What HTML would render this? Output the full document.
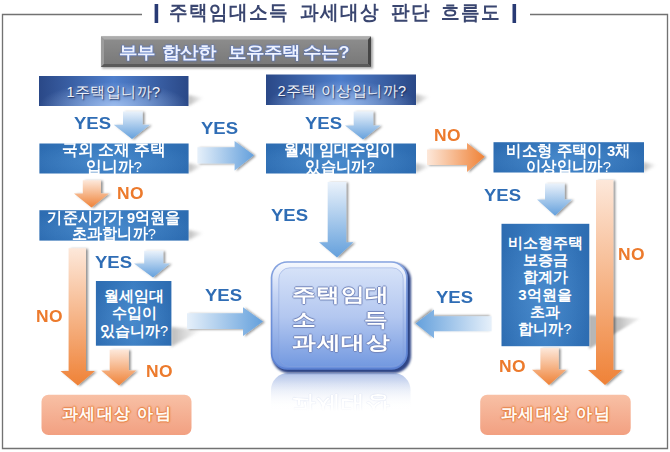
<!DOCTYPE html>
<html><head><meta charset="utf-8">
<style>
html,body{margin:0;padding:0;background:#fff;}
body{width:670px;height:452px;position:relative;overflow:hidden;font-family:"Liberation Sans",sans-serif;}
svg{position:absolute;left:0;top:0;}
.t{position:absolute;text-align:center;white-space:nowrap;line-height:1;}
.yes{position:absolute;font-weight:bold;font-size:17px;color:#2f6db5;line-height:1;transform-origin:0 0;transform:scaleX(1.09);margin-left:-0.8px;margin-top:-0.7px;}
.no{position:absolute;font-weight:bold;font-size:17px;color:#ec7a2c;line-height:1;letter-spacing:0.4px;transform-origin:0 0;transform:scaleX(1.025);margin-left:-0.7px;margin-top:-1px;}
.w{color:#fff;font-weight:bold;font-size:15.5px;}
.row{position:absolute;display:flex;justify-content:space-between;font-size:24px;transform-origin:0 0;transform:scaleY(0.8);font-weight:bold;line-height:1;color:#ffffff;
 text-shadow:1px 0 0.8px #7486bb,-1px 0 0.8px #7486bb,0 1px 0.8px #7486bb,0 -1px 0.8px #7486bb;}
.pe{position:absolute;text-align:center;white-space:nowrap;line-height:1;font-size:16px;font-weight:bold;color:#fffaf5;letter-spacing:0.7px;
 text-shadow:1px 0 1px #e7854a,-1px 0 1px #e7854a,0 1px 1px #e7854a,0 -1px 1px #e7854a,0 0 2.5px #e98c55;}
.gt{position:absolute;top:43.8px;white-space:nowrap;line-height:1;font-size:18px;font-weight:bold;color:#eef2fd;transform-origin:0 0;transform:scaleY(0.92);
 text-shadow:0 0 1px #4a6cc0,0 0 1.5px #4a6cc0,0 0 2px #5d7fd0;}
.q{font-weight:normal;}
</style></head><body>
<svg width="670" height="452" viewBox="0 0 670 452">
<defs>
  <linearGradient id="gDown" x1="0" y1="0" x2="0" y2="1">
    <stop offset="0" stop-color="#eaf2fb"/><stop offset="1" stop-color="#64a0dc"/>
  </linearGradient>
  <linearGradient id="gRight" x1="0" y1="0" x2="1" y2="0">
    <stop offset="0" stop-color="#e6f0fa"/><stop offset="1" stop-color="#64a0dc"/>
  </linearGradient>
  <linearGradient id="gLeft" x1="1" y1="0" x2="0" y2="0">
    <stop offset="0" stop-color="#e6f0fa"/><stop offset="1" stop-color="#64a0dc"/>
  </linearGradient>
  <linearGradient id="oDown" x1="0" y1="0" x2="0" y2="1">
    <stop offset="0" stop-color="#fde8da"/><stop offset="1" stop-color="#ef8237"/>
  </linearGradient>
  <linearGradient id="oRight" x1="0" y1="0" x2="1" y2="0">
    <stop offset="0" stop-color="#fde8da"/><stop offset="1" stop-color="#ef8237"/>
  </linearGradient>
  <linearGradient id="navy" x1="0" y1="0" x2="1" y2="0">
    <stop offset="0" stop-color="#2a4887"/><stop offset="0.5" stop-color="#4f7fcc"/><stop offset="1" stop-color="#2a4887"/>
  </linearGradient>
  <radialGradient id="navyHi" cx="0.5" cy="1" r="0.5" gradientTransform="translate(0.5 1) scale(1 1.6) translate(-0.5 -1)">
    <stop offset="0" stop-color="#a9c6f2" stop-opacity="0.85"/><stop offset="1" stop-color="#a9c6f2" stop-opacity="0"/>
  </radialGradient>
  <linearGradient id="mid" x1="0" y1="0" x2="1" y2="0">
    <stop offset="0" stop-color="#2d6cb1"/><stop offset="0.5" stop-color="#3a7dc2"/><stop offset="1" stop-color="#2d6cb1"/>
  </linearGradient>
  <radialGradient id="midHi" cx="0.45" cy="0.6" r="0.6">
    <stop offset="0" stop-color="#5a9ad8" stop-opacity="0.45"/><stop offset="1" stop-color="#5a9ad8" stop-opacity="0"/>
  </radialGradient>
  <linearGradient id="gray" x1="0" y1="0" x2="0" y2="1">
    <stop offset="0" stop-color="#8e8e8e"/><stop offset="1" stop-color="#777777"/>
  </linearGradient>
  <linearGradient id="peach" x1="0" y1="0" x2="0" y2="1">
    <stop offset="0" stop-color="#f8c0a5"/><stop offset="1" stop-color="#f2a081"/>
  </linearGradient>
  <linearGradient id="cOuter" x1="0" y1="0" x2="0" y2="1">
    <stop offset="0" stop-color="#a6bdee"/><stop offset="1" stop-color="#4d70c0"/>
  </linearGradient>
  <linearGradient id="cInner" x1="0" y1="0" x2="0" y2="1">
    <stop offset="0" stop-color="#d6e2f8"/><stop offset="0.5" stop-color="#b3c7f0"/><stop offset="1" stop-color="#7399e0"/>
  </linearGradient>
  <linearGradient id="cRim" x1="0" y1="0" x2="0" y2="1">
    <stop offset="0" stop-color="#87a4e0"/><stop offset="1" stop-color="#5a80d2"/>
  </linearGradient>
  <linearGradient id="cBand" x1="0" y1="0" x2="0" y2="1">
    <stop offset="0" stop-color="#f5f8fe"/><stop offset="0.3" stop-color="#c6d5f4"/><stop offset="1" stop-color="#7196de"/>
  </linearGradient>
  <linearGradient id="refl" gradientUnits="userSpaceOnUse" x1="0" y1="373" x2="0" y2="411">
    <stop offset="0" stop-color="#b0c2e8"/><stop offset="1" stop-color="#ffffff" stop-opacity="0"/>
  </linearGradient>
  <linearGradient id="shw" x1="0" y1="0" x2="1" y2="0">
    <stop offset="0" stop-color="#777"/><stop offset="1" stop-color="#777" stop-opacity="0"/>
  </linearGradient>
  <linearGradient id="shw2" x1="0" y1="0" x2="1" y2="0">
    <stop offset="0" stop-color="#888"/><stop offset="0.6" stop-color="#999"/><stop offset="1" stop-color="#bbb" stop-opacity="0.3"/>
  </linearGradient>
  <filter id="sh" x="-30%" y="-30%" width="160%" height="160%">
    <feDropShadow dx="2" dy="0.6" stdDeviation="1.1" flood-color="#000" flood-opacity="0.42"/>
  </filter>
  <filter id="shL" x="-30%" y="-30%" width="160%" height="160%">
    <feDropShadow dx="-1.8" dy="-0.8" stdDeviation="1.1" flood-color="#000" flood-opacity="0.42"/>
  </filter>
  <filter id="bl"><feGaussianBlur stdDeviation="1.8"/></filter>
  <filter id="bl05" x="-10%" y="-10%" width="120%" height="120%"><feGaussianBlur stdDeviation="0.7"/></filter>
  <filter id="bl1"><feGaussianBlur stdDeviation="1"/></filter>
</defs>

<!-- frame -->
<polyline points="142,14.5 2.5,14.5 2.5,448.5 667.5,448.5 667.5,14.5 530,14.5" fill="none" stroke="#727272" stroke-width="1.35"/>
<rect x="154.6" y="4" width="3.6" height="19" fill="#283a74"/>
<rect x="512.5" y="4" width="3.6" height="19" fill="#283a74"/>

<!-- gray box -->
<g filter="url(#bl1)" opacity="0.35"><rect x="102" y="37.5" width="271" height="31" fill="#000"/></g>
<rect x="101" y="36.5" width="270" height="30.5" fill="url(#gray)"/>
<polygon points="101,36.5 371,36.5 368,39.5 104,39.5" fill="#acacac"/>
<polygon points="101,36.5 104,39.5 104,64 101,67" fill="#9c9c9c"/>
<polygon points="371,36.5 371,67 368,64 368,39.5" fill="#454545"/>
<polygon points="101,67 371,67 368,64 104,64" fill="#5a5a5a"/>
<!-- box shadows -->
<g filter="url(#bl)" opacity="0.5">
<polygon fill="url(#shw)" points="188,95 204,98 188,106"/>
<polygon fill="url(#shw)" points="415,94 430,97 415,105"/>
<polygon fill="url(#shw)" points="188,163 203,166 188,173"/>
<polygon fill="url(#shw)" points="415,163 431,166 415,173"/>
<polygon fill="url(#shw)" points="643,162 657,165 643,172"/>
<polygon fill="url(#shw)" points="188,230 204,233 188,240"/>
<polygon fill="url(#shw)" points="171,327 202,330 171,347"/>
</g>

<g filter="url(#bl1)" opacity="0.62"><polygon fill="url(#shw2)" points="589,315 640,318.5 589,349"/></g>
<!-- navy boxes -->
<rect x="39" y="76" width="149.5" height="30" fill="url(#navy)"/>
<rect x="39" y="76" width="149.5" height="30" fill="url(#navyHi)"/>
<rect x="266" y="74.5" width="150" height="30.5" fill="url(#navy)"/>
<rect x="266" y="74.5" width="150" height="30.5" fill="url(#navyHi)"/>

<!-- mid boxes -->
<rect x="39.4" y="143.5" width="149.2" height="30" fill="url(#mid)"/>
<rect x="266" y="143.5" width="150" height="30" fill="url(#mid)"/>
<rect x="493.5" y="142.2" width="150.5" height="30.3" fill="url(#mid)"/>
<rect x="39.4" y="210.2" width="149.2" height="30.4" fill="url(#mid)"/>
<rect x="95.9" y="281" width="75.5" height="64.7" fill="url(#mid)"/>
<rect x="501.5" y="223.8" width="87.8" height="122.4" fill="url(#mid)"/>
<rect x="39.4" y="143.5" width="149.2" height="30" fill="url(#midHi)"/>
<rect x="266" y="143.5" width="150" height="30" fill="url(#midHi)"/>
<rect x="493.5" y="142.2" width="150.5" height="30.3" fill="url(#midHi)"/>
<rect x="39.4" y="210.2" width="149.2" height="30.4" fill="url(#midHi)"/>
<rect x="95.9" y="281" width="75.5" height="64.7" fill="url(#midHi)"/>
<rect x="501.5" y="223.8" width="87.8" height="122.4" fill="url(#midHi)"/>

<!-- blue arrows -->
<g filter="url(#sh)">
<polygon fill="url(#gDown)" points="123,111.4 142.6,111.4 142.6,124.8 150,124.8 132,139 113.7,124.8 123,124.8"/>
<polygon fill="url(#gDown)" points="353.7,111.4 373.2,111.4 373.2,125.5 380.6,125.5 363,139.6 345,125.5 353.7,125.5"/>
<polygon fill="url(#gRight)" points="197.4,147.2 234.6,147.2 234.6,141 254,155.2 234.6,170.4 234.6,163.4 197.4,163.4"/>
<polygon fill="url(#gDown)" points="327.7,182 346.2,182 346.2,242.2 353.4,242.2 337,257.6 319,242.2 327.7,242.2"/>
<polygon fill="url(#gDown)" points="545,183.5 564.6,183.5 564.6,199.6 572,199.6 555,215.7 537,199.6 545,199.6"/>
<polygon fill="url(#gDown)" points="144.2,250.8 163.2,250.8 163.2,263.5 170,263.5 153,277.4 134,263.5 144.2,263.5"/>
<polygon fill="url(#gRight)" points="187,313.3 243,313.3 243,307.3 263,321.6 243,336 243,329 187,329"/>
</g>
<polygon filter="url(#shL)" fill="url(#gLeft)" points="491.6,316.2 434,316.2 434,309.5 415.6,323.6 434,338.2 434,331.2 491.6,331.2"/>
<!-- orange arrows -->
<g filter="url(#sh)">
<polygon fill="url(#oRight)" points="427,149.4 467,149.4 467,142.9 484.7,156.8 467,172 467,164.9 427,164.9"/>
<polygon fill="url(#oDown)" points="82.8,180.3 100.9,180.3 100.9,193.5 109,193.5 91.5,207.6 74,193.5 82.8,193.5"/>
<polygon fill="url(#oDown)" points="596,180 613.3,180 613.3,370 622,370 605,385 588,370 596,370"/>
<polygon fill="url(#oDown)" points="68.6,248.2 86,248.2 86,371 95,371 77.8,385.5 60.5,371 68.6,371"/>
<polygon fill="url(#oDown)" points="109.7,349.7 128.8,349.7 128.8,370.4 136.2,370.4 119,385.5 101.2,370.4 109.7,370.4"/>
<polygon fill="url(#oDown)" points="540.4,348 558.7,348 558.7,369.8 566.3,369.8 549,385 532,369.8 540.4,369.8"/>
</g>

<!-- center box reflection -->
<clipPath id="rclip"><rect x="260" y="373" width="160" height="40"/></clipPath>
<rect x="271" y="373" width="139.5" height="111" rx="17" fill="url(#refl)" clip-path="url(#rclip)"/>
<!-- center box -->
<g filter="url(#bl1)"><rect x="272" y="263" width="139" height="110" rx="17" fill="#2f4585"/></g>
<g filter="url(#bl05)"><rect x="270.8" y="261.2" width="137" height="108.5" rx="16.5" fill="url(#cRim)"/></g>
<rect x="272.4" y="262.8" width="133.6" height="105" rx="15" fill="url(#cBand)"/>
<rect x="278.8" y="267.8" width="124.4" height="98.7" rx="11" fill="url(#cInner)" stroke="#86a2dc" stroke-opacity="0.7" stroke-width="0.7"/>
<!-- peach boxes -->
<rect x="41.5" y="394.8" width="150" height="40.2" rx="7" fill="url(#peach)"/>
<rect x="480.2" y="394.8" width="150.5" height="40.2" rx="7" fill="url(#peach)"/>
</svg>

<!-- title -->
<div style="position:absolute;white-space:nowrap;line-height:1;left:169px;top:2.2px;font-size:20px;font-weight:bold;color:#3a4670;letter-spacing:1.6px;word-spacing:4px;transform-origin:0 0;transform:scaleX(0.93);">주택임대소득 과세대상 판단 흐름도</div>

<div class="gt" style="left:119px;">부부</div><div class="gt" style="left:161.5px;">합산한</div><div class="gt" style="left:227.5px;">보유주택</div><div class="gt" style="left:302.5px;">수는?</div>

<div class="t" style="left:38.5px;top:85.3px;width:150px;font-size:14.5px;letter-spacing:0.4px;color:#eef1f8;text-shadow:1px 1px 1.5px #1c2c5a;">1주택입니까?</div>
<div class="t" style="left:267px;top:83.8px;width:150px;font-size:14.5px;letter-spacing:0.4px;color:#eef1f8;text-shadow:1px 1px 1.5px #1c2c5a;">2주택 이상입니까?</div>

<div class="t w" style="left:39.2px;top:142px;width:150px;line-height:16.5px;transform:scaleX(0.985);">국외 소재 주택<br>입니까<span class="q">?</span></div>
<div class="t w" style="left:265px;top:142px;width:150px;line-height:16.5px;transform:scaleX(0.96);">월세 임대수입이<br>있습니까<span class="q">?</span></div>
<div class="t w" style="left:493px;top:142.5px;width:151px;line-height:16.5px;transform:scaleX(0.963);">비소형 주택이 3채<br>이상입니까<span class="q">?</span></div>
<div class="t w" style="left:39px;top:209.5px;width:150px;line-height:16.5px;transform:scaleX(0.945);">기준시가가 9억원을<br>초과합니까<span class="q">?</span></div>
<div class="t w" style="left:96px;top:288px;width:76px;line-height:17.4px;font-size:14.5px;">월세임대<br>수입이<br>있습니까<span class="q">?</span></div>
<div class="t w" style="left:501px;top:234px;width:88px;line-height:17.2px;font-size:15px;">비소형주택<br>보증금<br>합계가<br>3억원을<br>초과<br>합니까<span class="q">?</span></div>

<div class="yes" style="left:75px;top:116px;">YES</div>
<div class="yes" style="left:202px;top:121px;">YES</div>
<div class="yes" style="left:306px;top:116px;">YES</div>
<div class="no" style="left:434.5px;top:127.5px;">NO</div>
<div class="no" style="left:117.5px;top:186px;">NO</div>
<div class="yes" style="left:272px;top:208px;">YES</div>
<div class="yes" style="left:485px;top:187.5px;">YES</div>
<div class="no" style="left:619px;top:247px;">NO</div>
<div class="yes" style="left:95.5px;top:255px;">YES</div>
<div class="no" style="left:36.5px;top:309px;">NO</div>
<div class="no" style="left:147px;top:363.5px;">NO</div>
<div class="yes" style="left:205.5px;top:288px;">YES</div>
<div class="yes" style="left:436.5px;top:290px;">YES</div>
<div class="no" style="left:500px;top:359px;">NO</div>

<!-- center text -->
<div class="row" style="left:292px;top:284.8px;width:97px;"><span>주</span><span>택</span><span>임</span><span>대</span></div>
<div class="row" style="left:292px;top:310px;width:96px;"><span>소</span><span>득</span></div>
<div class="row" style="left:292px;top:333.2px;width:98px;"><span>과</span><span>세</span><span>대</span><span>상</span></div>
<!-- reflected text -->
<div class="row" style="left:292px;top:413px;width:98px;transform:scaleY(-0.8);color:#fff;text-shadow:0 0 1px #9fb2dc;"><span>과</span><span>세</span><span>대</span><span>상</span></div>
<div style="position:absolute;left:265px;top:380px;width:152px;height:34px;background:linear-gradient(to bottom,rgba(255,255,255,0) 0%,rgba(255,255,255,0.25) 50%,rgba(255,255,255,0.6) 80%,#fff 92%);"></div>

<div class="pe" style="left:41.5px;top:406px;width:151px;font-size:16px;letter-spacing:1.4px;">과세대상 아님</div>
<div class="pe" style="left:480px;top:406px;width:152px;font-size:16px;letter-spacing:1.4px;">과세대상 아님</div>
</body></html>
